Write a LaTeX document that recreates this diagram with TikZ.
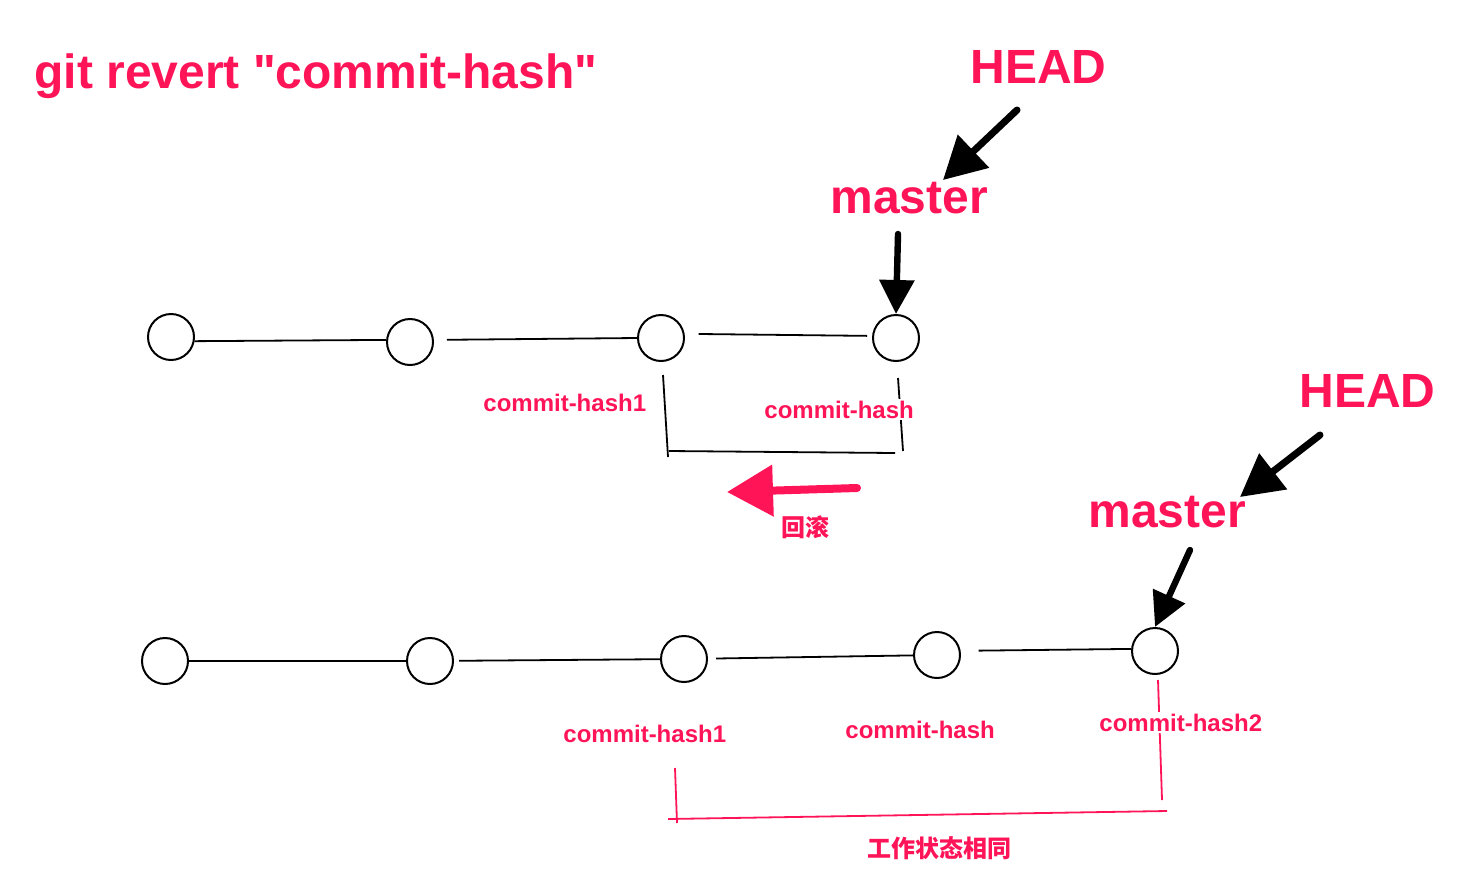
\documentclass[tikz,border=0pt]{standalone}
\usepackage{fontspec}
\setmainfont{Liberation Sans}[Ligatures=TeXOff]
\newfontfamily\cjk{Noto Sans CJK SC}
\usetikzlibrary{arrows.meta}
\definecolor{hot}{RGB}{255,20,88}
\tikzset{
  commit/.style={circle,draw=black,line width=1pt,minimum size=23pt,inner sep=0pt},
  edge/.style={draw=black,line width=0.9pt},
  big/.style={text=hot,font=\fontsize{24}{24}\selectfont\bfseries,inner sep=0pt,anchor=base west},
  small/.style={text=hot,font=\fontsize{12}{12}\selectfont\bfseries,inner sep=0pt,anchor=base west},
  cjklabel/.style={text=hot,font=\cjk\fontsize{12}{12}\selectfont\bfseries,inner sep=0pt},
  ptr/.style={draw=black,line width=3.5pt,line cap=round,-{Triangle[length=21pt,width=22pt]}},
  ptrs/.style={draw=black,line width=3.2pt,line cap=round,-{Triangle[length=17pt,width=17pt]}},
  brk/.style={draw=black,line width=0.9pt},
  rbrk/.style={draw=hot,line width=0.9pt},
}
\begin{document}
\begin{tikzpicture}[x=0.5pt,y=-0.5pt]
\useasboundingbox (0,0) rectangle (1470,868);
% title
\node[big] (title) at (34,88) {git revert "commit-hash"};
% top labels
\node[big] (head1) at (970,83) {HEAD};
\node[big] (master1) at (830,213) {master};
% top commits
\node[commit] (t1) at (171,337) {};
\node[commit] (t2) at (410,342) {};
\node[commit] (t3) at (661,338) {};
\node[commit] (t4) at (896,338) {};
\draw[edge] (t1.-10) -- (t2.175);
\draw[edge,shorten <=6.5pt] (t2.5) -- (t3.180);
\draw[edge,shorten <=7pt,shorten >=2.5pt] (t3.10) -- (t4.175);
% top pointers
\coordinate (h1s) at (1017,110);
\coordinate (h1e) at (943,180);
\draw[ptr] (h1s) -- (h1e);
\coordinate (m1s) at (898,234);
\draw[ptrs] (m1s) -- (t4.north);
% top bracket
\coordinate (a1) at (663,375);
\coordinate (a2) at (668,457);
\coordinate (a3) at (669,451);
\coordinate (a4) at (895,453);
\coordinate (a5) at (898,378);
\coordinate (a6) at (903,451);
\draw[brk] (a1) -- (a2);
\draw[brk] (a3) -- (a4);
\draw[brk] (a5) -- (a6);
\node[small] (lt1) at (483,411) {commit-hash1};
\node[small,fill=white,inner sep=1pt] (lt2) at (762,418) {commit-hash};
% red arrow
\coordinate (rs) at (857,488);
\coordinate (re) at (727,492);
\draw[hot,line width=4pt,line cap=round,-{Triangle[length=23pt,width=25pt]}] (rs) -- (re);
\node[cjklabel] (rollback) at (805,527) {回滚};
% bottom labels
\node[big] (head2) at (1299,407) {HEAD};
\node[big] (master2) at (1088,527) {master};
% bottom commits
\node[commit] (b1) at (165,661) {};
\node[commit] (b2) at (430,661) {};
\node[commit] (b3) at (684,659) {};
\node[commit] (b4) at (937,655) {};
\node[commit] (b5) at (1155,651) {};
\draw[edge] (b1) -- (b2);
\draw[edge,shorten <=2.5pt] (b2) -- (b3);
\draw[edge,shorten <=4pt] (b3) -- (b4);
\draw[edge,shorten <=9pt] (b4.10) -- (b5.175);
% bottom pointers
\coordinate (h2s) at (1320,435);
\coordinate (h2e) at (1240,497);
\draw[ptr] (h2s) -- (h2e);
\coordinate (m2s) at (1190,550);
\draw[ptrs] (m2s) -- (b5.north);
% red bracket
\coordinate (c1) at (675,768);
\coordinate (c2) at (677,823);
\coordinate (c3) at (668,819);
\coordinate (c4) at (1167,811);
\coordinate (c5) at (1158,680);
\coordinate (c6) at (1162,800);
\draw[rbrk] (c1) -- (c2);
\draw[rbrk] (c3) -- (c4);
\draw[rbrk] (c5) -- (c6);
\node[small] (lb1) at (563,742) {commit-hash1};
\node[small] (lb2) at (845,738) {commit-hash};
\node[small,fill=white,inner sep=1pt] (lb3) at (1097,731) {commit-hash2};
\node[cjklabel] (same) at (939,848) {工作状态相同};
\end{tikzpicture}
\end{document}
